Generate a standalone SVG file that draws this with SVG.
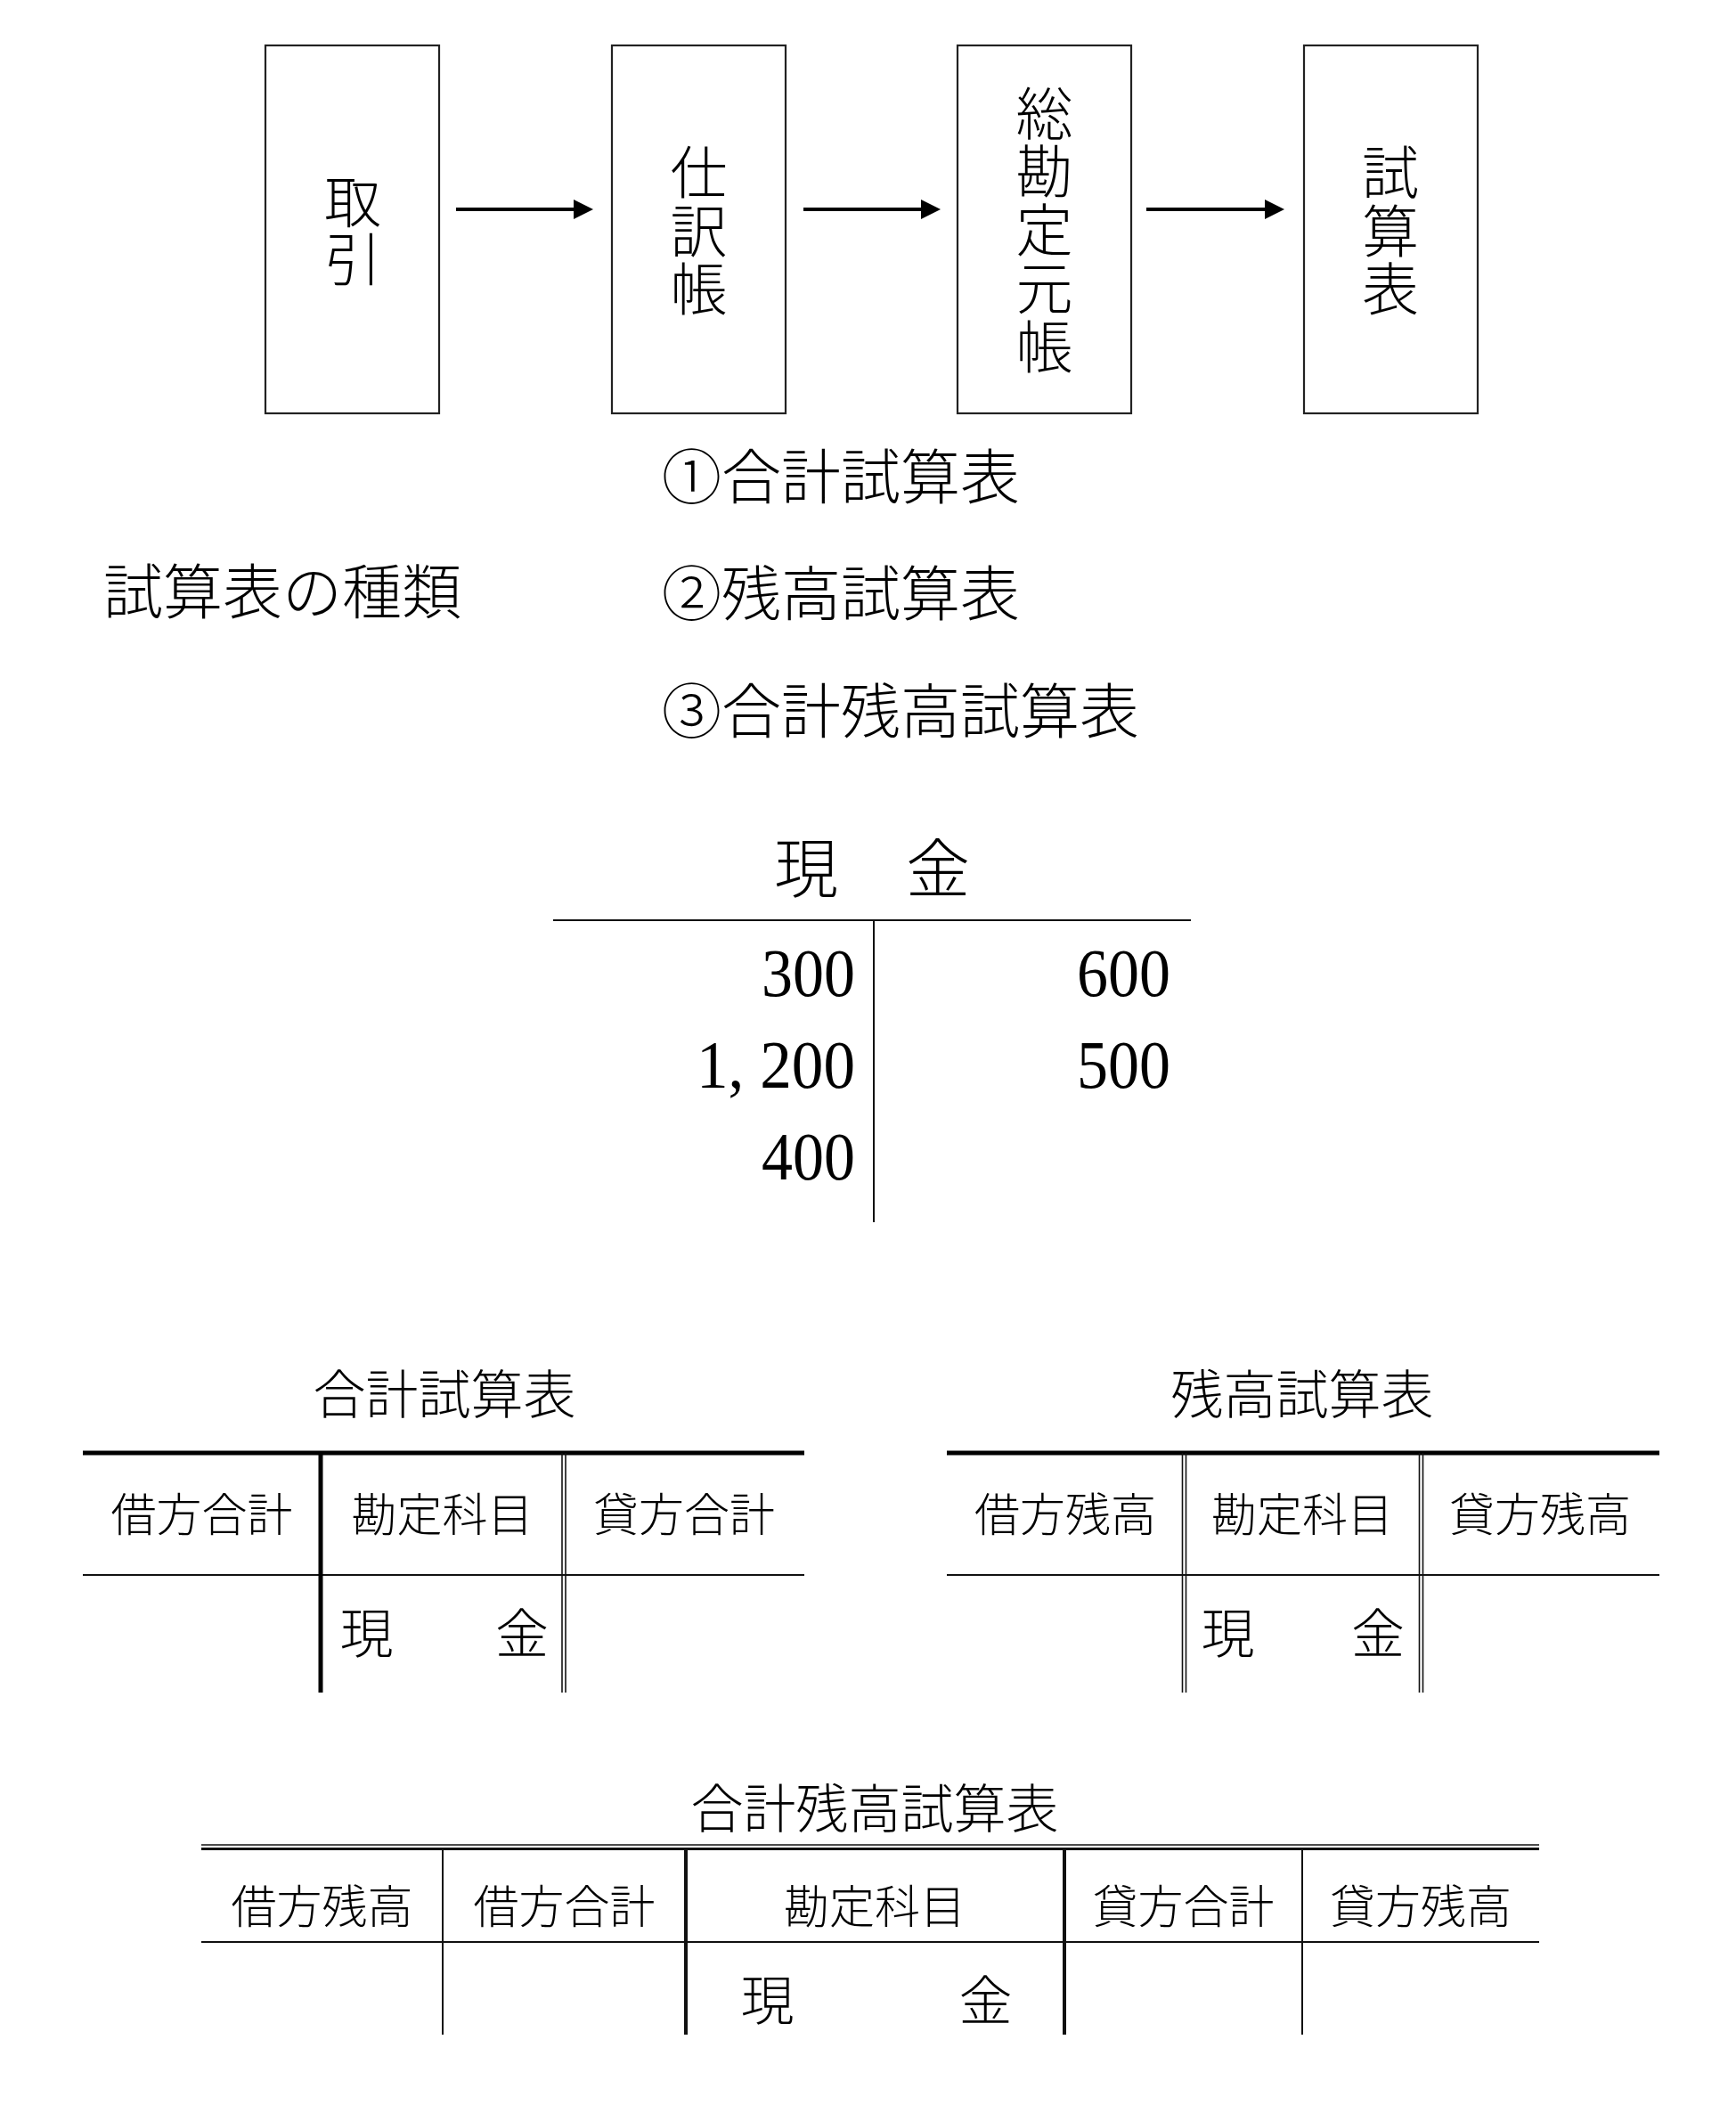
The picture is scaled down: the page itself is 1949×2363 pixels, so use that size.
<svg xmlns="http://www.w3.org/2000/svg" width="1949" height="2363" viewBox="0 0 1949 2363">
<style>
.bg{fill:#fff}
.box{fill:#fff;stroke:#222;stroke-width:2.2}
.jp{font-family:"Noto Sans CJK JP","Noto Sans CJK SC",sans-serif;font-weight:300;fill:#000}
.vt{font-size:64px;text-anchor:middle;writing-mode:vertical-rl;letter-spacing:1.5px}
.lst{font-size:67px}
.ttl{font-size:59px;text-anchor:middle}
.hd{font-size:51px;text-anchor:middle}
.bd{font-size:60px;text-anchor:middle}
.num{font-family:"Liberation Serif",serif;font-size:76px;text-anchor:end;fill:#000}
.thin{stroke:#111;stroke-width:2;fill:none}
.thick{stroke:#000;stroke-width:5;fill:none}
.dbl{stroke:#111;stroke-width:1.6;fill:none}
.arrow{stroke:#000;stroke-width:4;fill:none}
</style>
<defs>
<marker id="ah" markerUnits="userSpaceOnUse" markerWidth="22" markerHeight="22" refX="4" refY="11" orient="auto">
<path d="M0,0 L22,11 L0,22 z" fill="#000"/>
</marker>
</defs>
<rect class="bg" x="0" y="0" width="1949" height="2363"/>

<g id="node-torihiki">
<rect class="box" x="298" y="51" width="195" height="413"/>
<text class="jp vt" x="396" y="259">取引</text>
</g>
<g id="node-shiwakecho">
<rect class="box" x="687" y="51" width="195" height="413"/>
<text class="jp vt" x="784.5" y="259">仕訳帳</text>
</g>
<g id="node-motocho">
<rect class="box" x="1075" y="51" width="195" height="413"/>
<text class="jp vt" x="1172.5" y="258">総勘定元帳</text>
</g>
<g id="node-shisanhyo">
<rect class="box" x="1464" y="51" width="195" height="413"/>
<text class="jp vt" x="1561" y="259">試算表</text>
</g>

<g id="connectors">
<line class="arrow" x1="512" y1="235" x2="648" y2="235" marker-end="url(#ah)"/>
<line class="arrow" x1="902" y1="235" x2="1038" y2="235" marker-end="url(#ah)"/>
<line class="arrow" x1="1287" y1="235" x2="1424" y2="235" marker-end="url(#ah)"/>
</g>

<g id="types">
<text class="jp lst" x="116" y="689">試算表の種類</text>
<text class="jp lst" x="743" y="560">①合計試算表</text>
<text class="jp lst" x="743" y="691">②残高試算表</text>
<text class="jp lst" x="743" y="823">③合計残高試算表</text>
</g>

<g id="t-account">
<text class="jp bd" style="font-size:72px" x="905" y="1001">現</text>
<text class="jp bd" style="font-size:72px" x="1053" y="1001">金</text>
<line class="thin" x1="621" y1="1033" x2="1337" y2="1033"/>
<line class="thin" x1="981" y1="1033" x2="981" y2="1372"/>
<text class="num" x="960" y="1118" textLength="105" lengthAdjust="spacingAndGlyphs">300</text>
<text class="num" x="960" y="1221" textLength="178" lengthAdjust="spacingAndGlyphs">1, 200</text>
<text class="num" x="960" y="1324" textLength="105" lengthAdjust="spacingAndGlyphs">400</text>
<text class="num" x="1314" y="1118" textLength="105" lengthAdjust="spacingAndGlyphs">600</text>
<text class="num" x="1314" y="1221" textLength="105" lengthAdjust="spacingAndGlyphs">500</text>
</g>

<g id="table-goukei">
<text class="jp ttl" x="499" y="1587">合計試算表</text>
<line class="thick" x1="93" y1="1631" x2="903" y2="1631"/>
<line class="thin" x1="93" y1="1768" x2="903" y2="1768"/>
<line class="thick" x1="360" y1="1629" x2="360" y2="1900"/>
<line class="dbl" x1="631" y1="1631" x2="631" y2="1900"/>
<line class="dbl" x1="635" y1="1631" x2="635" y2="1900"/>
<text class="jp hd" x="226.5" y="1719">借方合計</text>
<text class="jp hd" x="496.5" y="1719">勘定科目</text>
<text class="jp hd" x="768" y="1719">貸方合計</text>
<text class="jp bd" x="411.5" y="1856">現</text>
<text class="jp bd" x="586" y="1856">金</text>
</g>

<g id="table-zandaka">
<text class="jp ttl" x="1462" y="1587">残高試算表</text>
<line class="thick" x1="1063" y1="1631" x2="1863" y2="1631"/>
<line class="thin" x1="1063" y1="1768" x2="1863" y2="1768"/>
<line class="dbl" x1="1327.5" y1="1631" x2="1327.5" y2="1900"/>
<line class="dbl" x1="1331.5" y1="1631" x2="1331.5" y2="1900"/>
<line class="dbl" x1="1593.5" y1="1631" x2="1593.5" y2="1900"/>
<line class="dbl" x1="1597.5" y1="1631" x2="1597.5" y2="1900"/>
<text class="jp hd" x="1196" y="1719">借方残高</text>
<text class="jp hd" x="1462" y="1719">勘定科目</text>
<text class="jp hd" x="1729" y="1719">貸方残高</text>
<text class="jp bd" x="1378.5" y="1856">現</text>
<text class="jp bd" x="1547" y="1856">金</text>
</g>

<g id="table-goukei-zandaka">
<text class="jp ttl" x="982" y="2052">合計残高試算表</text>
<line class="dbl" x1="226" y1="2071" x2="1728" y2="2071"/>
<line class="thin" style="stroke-width:3" x1="226" y1="2075.5" x2="1728" y2="2075.5"/>
<line class="thin" x1="226" y1="2180" x2="1728" y2="2180"/>
<line class="thin" x1="497" y1="2075" x2="497" y2="2284"/>
<line class="thin" style="stroke-width:4" x1="770" y1="2075" x2="770" y2="2284"/>
<line class="thin" style="stroke-width:4" x1="1195" y1="2075" x2="1195" y2="2284"/>
<line class="thin" x1="1462" y1="2075" x2="1462" y2="2284"/>
<text class="jp hd" x="361.5" y="2159">借方残高</text>
<text class="jp hd" x="633.5" y="2159">借方合計</text>
<text class="jp hd" x="982" y="2159">勘定科目</text>
<text class="jp hd" x="1328.5" y="2159">貸方合計</text>
<text class="jp hd" x="1595" y="2159">貸方残高</text>
<text class="jp bd" x="861.5" y="2268">現</text>
<text class="jp bd" x="1106.5" y="2268">金</text>
</g>
</svg>
